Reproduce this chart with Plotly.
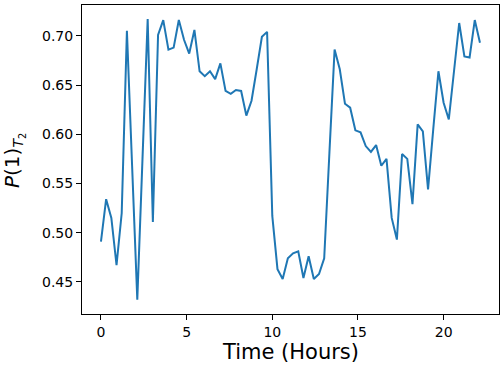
import plotly.graph_objects as go

# Sampling step between measurements (hours)
time_step_hours = 0.303
probability_t2 = [
    0.491, 0.534, 0.515, 0.467, 0.520, 0.705, 0.568, 0.432, 0.575, 0.717,
    0.511, 0.701, 0.716, 0.686, 0.688, 0.716, 0.696, 0.682, 0.706, 0.664,
    0.659, 0.664, 0.656, 0.672, 0.644, 0.641, 0.645, 0.644, 0.619, 0.634,
    0.666, 0.699, 0.704, 0.517, 0.463, 0.453, 0.474, 0.479, 0.481, 0.454,
    0.476, 0.453, 0.458, 0.474, 0.581, 0.686, 0.666, 0.631, 0.627, 0.604,
    0.602, 0.588, 0.582, 0.589, 0.568, 0.575, 0.515, 0.493, 0.580, 0.575,
    0.529, 0.610, 0.603, 0.544, 0.605, 0.664, 0.632, 0.615, 0.664, 0.713,
    0.679, 0.678, 0.716, 0.693,
]
time_hours = [i * time_step_hours for i in range(len(probability_t2))]

x_ticks = [0, 5, 10, 15, 20]
y_ticks = [0.45, 0.50, 0.55, 0.60, 0.65, 0.70]
y_tick_labels = ["0.45", "0.50", "0.55", "0.60", "0.65", "0.70"]

fig = go.Figure()
fig.add_trace(go.Scatter(
    x=time_hours, y=probability_t2, mode="lines",
    line=dict(color="#1f77b4", width=2),
    showlegend=False,
))

W, H = 503, 370
L, R, T, B = 82, 4, 5, 56
pw = W - L - R
ph = H - T - B

axis_common = dict(
    showline=True, linecolor="black", linewidth=1, mirror=True,
    ticks="outside", ticklen=5, tickwidth=1, tickcolor="black",
    showgrid=False, zeroline=False, automargin=False,
    tickfont=dict(family="DejaVu Sans", size=14, color="black"),
)

xmin, xmax = -1.106, 23.23
ymin, ymax = 0.4174, 0.7313

fig.update_layout(
    width=W, height=H,
    margin=dict(l=L, r=R, t=T, b=B, autoexpand=False),
    paper_bgcolor="white", plot_bgcolor="white",
    xaxis=dict(range=[xmin, xmax], tickvals=x_ticks, **axis_common),
    yaxis=dict(range=[ymin, ymax], tickvals=y_ticks, ticktext=y_tick_labels, **axis_common),
    annotations=[
        dict(text="Time (Hours)", xref="paper", yref="paper",
             x=0.5, y=(H - B - 352) / ph, xanchor="center", yanchor="middle",
             showarrow=False, font=dict(family="DejaVu Sans", size=21, color="black")),
        dict(text="<i>P</i>(1)<sub><i>T</i><sub>2</sub></sub>", xref="paper", yref="paper",
             x=(14 - L) / pw, y=(H - B - 161) / ph, xanchor="center", yanchor="middle",
             textangle=-90, showarrow=False,
             font=dict(family="DejaVu Sans", size=20, color="black")),
    ],
)

fig.write_html(
    "out.html",
    config={"displayModeBar": False},
    post_script="document.body.style.margin='0';document.body.style.padding='0';",
)
